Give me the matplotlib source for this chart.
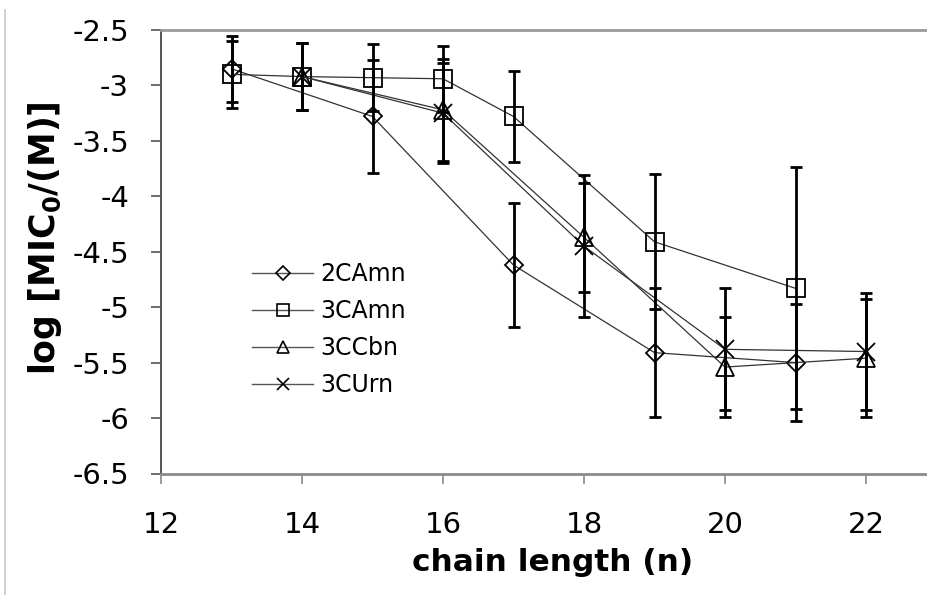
import matplotlib
matplotlib.use("Agg")
import matplotlib.pyplot as plt
from matplotlib.lines import Line2D

# Chain length vs. log MIC0 for four surfactant series
n_2CAmn = [13, 15, 17, 19, 21]
y_2CAmn = [-2.85, -3.28, -4.62, -5.41, -5.50]
e_2CAmn = [0.30, 0.51, 0.56, 0.58, 0.53]

n_3CAmn = [13, 14, 15, 16, 17, 19, 21]
y_3CAmn = [-2.90, -2.92, -2.93, -2.94, -3.28, -4.41, -4.83]
e_3CAmn = [0.30, 0.30, 0.30, 0.30, 0.41, 0.61, 1.09]

n_3CCbn = [14, 16, 18, 20, 22]
y_3CCbn = [-2.92, -3.22, -4.37, -5.54, -5.46]
e_3CCbn = [0.30, 0.46, 0.49, 0.45, 0.53]

n_3CUrn = [14, 16, 18, 20, 22]
y_3CUrn = [-2.92, -3.25, -4.45, -5.38, -5.40]
e_3CUrn = [0.30, 0.45, 0.64, 0.55, 0.53]

series = [
    ("2CAmn", n_2CAmn, y_2CAmn, e_2CAmn, "D", 9.5),
    ("3CAmn", n_3CAmn, y_3CAmn, e_3CAmn, "s", 12.5),
    ("3CCbn", n_3CCbn, y_3CCbn, e_3CCbn, "^", 13.0),
    ("3CUrn", n_3CUrn, y_3CUrn, e_3CUrn, "x", 12.5),
]

x_ticks = [12, 14, 16, 18, 20, 22]
y_ticks = [-2.5, -3, -3.5, -4, -4.5, -5, -5.5, -6, -6.5]

W, H = 928, 595
fig = plt.figure(figsize=(W / 100, H / 100), dpi=100)
plt.rcParams["font.family"] = ["DejaVu Sans"]

left, right, top, bottom = 161, 928, 30, 473.5
ax = fig.add_axes([left / W, 1 - bottom / H, (right - left) / W, (bottom - top) / H])

px_per_unit = 70.5
ax.set_xlim(12, 12 + (right - left) / px_per_unit)
ax.set_ylim(-6.5, -2.5)

handles = []
for name, xs, ys, es, mk, ms in series:
    ax.errorbar(xs, ys, yerr=es, fmt="none", ecolor="black", elinewidth=2.0,
                capsize=4.2, capthick=2.0, zorder=4)
    ax.plot(xs, ys, color="#333333", linewidth=0.9, marker=mk, markersize=ms,
            markerfacecolor="none", markeredgecolor="black", markeredgewidth=1.3,
            zorder=3)
    handles.append(Line2D([0], [0], color="#555555", linewidth=1.0, marker=mk,
                          markersize=ms * 0.7, markerfacecolor="none",
                          markeredgecolor="black", markeredgewidth=1.2,
                          label=name))

ax.set_xticks(x_ticks)
ax.set_xticklabels([str(v) for v in x_ticks])
ax.set_yticks(y_ticks)
ax.set_yticklabels([f"{v:g}" for v in y_ticks])

ax.tick_params(axis="x", direction="out", length=7, width=1.2, color="#888888",
               labelsize=21, pad=20)
ax.tick_params(axis="y", direction="out", length=7, width=1.2, color="#555555",
               labelsize=21, pad=16)

ax.spines["right"].set_visible(False)
ax.spines["top"].set_color("#9a9a9a")
ax.spines["top"].set_linewidth(2.0)
ax.spines["bottom"].set_color("#8a8a8a")
ax.spines["bottom"].set_linewidth(2.0)
ax.spines["left"].set_color("#555555")
ax.spines["left"].set_linewidth(1.4)

ax.set_xlabel("chain length (n)", fontsize=22.5, fontweight="bold")
ax.xaxis.set_label_coords((553 - left) / (right - left), (bottom - 548) / (bottom - top))
ax.set_ylabel(r"log [MIC$_\mathbf{0}$/(M)]", fontsize=25, fontweight="bold")
ax.yaxis.set_label_coords((26 - left) / (right - left), (bottom - 238) / (bottom - top))
ax.yaxis.label.set_verticalalignment("top")

leg = ax.legend(handles=handles, loc="upper left",
                bbox_to_anchor=((252 - left) / (right - left), (bottom - 262) / (bottom - top)),
                frameon=False, fontsize=17, handlelength=2.6, handletextpad=0.3,
                labelspacing=0.55, borderaxespad=0, borderpad=0)

# thin frame line along the left edge of the chart area
fig.add_artist(Line2D([5.5 / W, 5.5 / W], [0, 1 - 10 / H], color="#c8c8c8",
                      linewidth=1.2, transform=fig.transFigure))

fig.savefig("out.png", dpi=100)
